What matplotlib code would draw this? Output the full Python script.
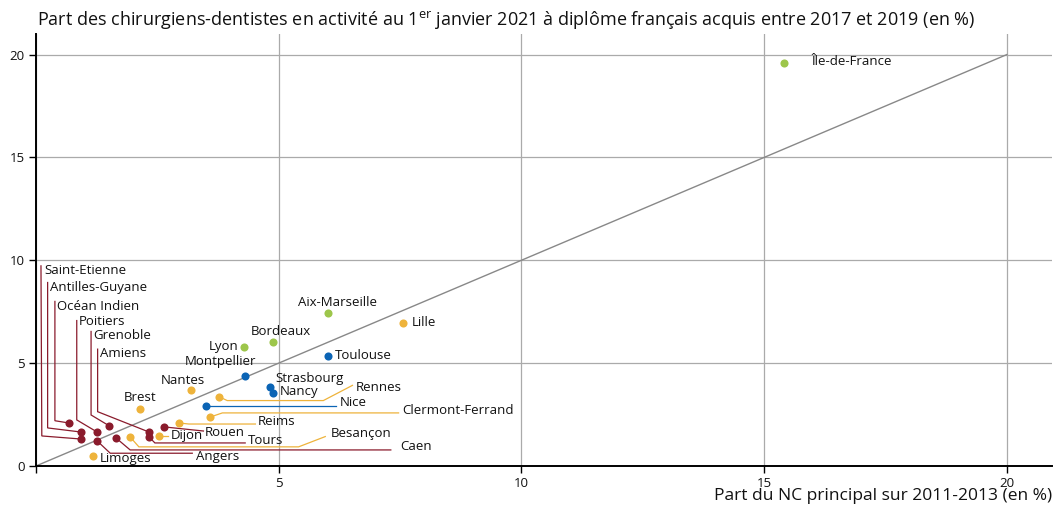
import matplotlib.pyplot as plt

plt.rcParams["font.family"] = ["Open Sans", "DejaVu Sans"]
plt.rcParams["mathtext.fontset"] = "custom"
plt.rcParams["mathtext.rm"] = "Open Sans"

# Data: share of principal NC 2011-2013 (x) vs share of dentists 2021 (y), in %
names = ["Île-de-France", "Aix-Marseille", "Bordeaux", "Lyon",
         "Lille", "Nantes", "Brest", "Rennes", "Reims", "Clermont-Ferrand",
         "Dijon", "Besançon", "Limoges",
         "Toulouse", "Montpellier", "Strasbourg", "Nancy", "Nice",
         "Saint-Etienne", "Antilles-Guyane", "Océan Indien", "Poitiers",
         "Grenoble", "Amiens", "Rouen", "Tours", "Caen", "Angers"]
x_nc = [15.42, 6.01, 4.89, 4.29,
        7.57, 3.20, 2.15, 3.78, 2.95, 3.59,
        2.54, 1.94, 1.18,
        6.01, 4.31, 4.83, 4.89, 3.51,
        0.93, 0.93, 0.68, 1.26,
        1.51, 2.33, 2.64, 2.33, 1.65, 1.26]
y_dent = [19.61, 7.45, 6.03, 5.79,
          6.96, 3.70, 2.77, 3.36, 2.09, 2.38,
          1.46, 1.41, 0.49,
          5.35, 4.38, 3.84, 3.55, 2.92,
          1.31, 1.65, 2.09, 1.65,
          1.95, 1.65, 1.90, 1.41, 1.36, 1.22]
groups = ["g"] * 4 + ["o"] * 9 + ["b"] * 5 + ["r"] * 10

colors = {"g": "#9DC64B", "o": "#EEB33B", "b": "#0B64B5", "r": "#8A1B2C"}

# label layout: (x, y, ha) in data units, plus optional leader waypoints
labels = {
    "Île-de-France": (15.98, 19.66, "left"),
    "Aix-Marseille": (6.21, 7.93, "center"),
    "Lille": (7.74, 6.96, "left"),
    "Bordeaux": (5.04, 6.52, "center"),
    "Lyon": (4.17, 5.79, "right"),
    "Toulouse": (6.15, 5.35, "left"),
    "Montpellier": (3.80, 5.06, "center"),
    "Strasbourg": (4.93, 4.23, "left"),
    "Nancy": (5.02, 3.60, "left"),
    "Nantes": (3.03, 4.18, "center"),
    "Brest": (2.15, 3.31, "center"),
    "Limoges": (1.32, 0.34, "left"),
    "Nice": (6.25, 3.07, "left"),
    "Rennes": (6.58, 3.80, "left"),
    "Clermont-Ferrand": (7.55, 2.68, "left"),
    "Reims": (4.56, 2.14, "left"),
    "Rouen": (3.47, 1.62, "left"),
    "Dijon": (2.77, 1.46, "left"),
    "Tours": (4.36, 1.22, "left"),
    "Besançon": (6.07, 1.56, "left"),
    "Caen": (7.51, 0.97, "left"),
    "Angers": (3.30, 0.45, "left"),
    "Saint-Etienne": (0.165, 9.49, "left"),
    "Antilles-Guyane": (0.29, 8.66, "left"),
    "Océan Indien": (0.44, 7.75, "left"),
    "Poitiers": (0.89, 7.02, "left"),
    "Grenoble": (1.17, 6.34, "left"),
    "Amiens": (1.32, 5.48, "left"),
}
leaders = {
    "Nice": [(6.19, 2.92)],
    "Rennes": [(3.94, 3.18), (5.92, 3.18), (6.52, 3.92)],
    "Clermont-Ferrand": [(3.84, 2.58), (7.47, 2.58)],
    "Reims": [(3.15, 2.04), (4.52, 2.04)],
    "Rouen": [(3.45, 1.70)],
    "Dijon": [(2.72, 1.46)],
    "Tours": [(2.45, 1.12), (4.31, 1.12)],
    "Besançon": [(2.12, 0.93), (5.41, 0.93), (5.96, 1.43)],
    "Caen": [(1.94, 0.78), (7.31, 0.78)],
    "Angers": [(1.53, 0.62), (3.22, 0.62)],
    "Saint-Etienne": [(0.12, 1.46), (0.103, 9.73)],
    "Antilles-Guyane": [(0.24, 1.85), (0.24, 8.92)],
    "Océan Indien": [(0.39, 2.20), (0.39, 8.00)],
    "Poitiers": [(0.84, 2.24), (0.84, 7.07)],
    "Grenoble": [(1.135, 2.48), (1.135, 6.54)],
    "Amiens": [(1.27, 2.64), (1.27, 5.68)],
}

fig = plt.figure(figsize=(10.55, 5.07), dpi=100)
ax = fig.add_axes([0.0341, 0.0809, 0.963, 0.852])

ax.set_xlim(0, 20.93)
ax.set_ylim(0, 21.0)
ax.set_xticks([0, 5, 10, 15, 20])
ax.set_xticklabels(["", "5", "10", "15", "20"])
ax.set_yticks([0, 5, 10, 15, 20])
ax.grid(True, color="#AAAAAA", linewidth=0.9)
ax.set_axisbelow(True)
for s in ["top", "right"]:
    ax.spines[s].set_visible(False)
for s in ["left", "bottom"]:
    ax.spines[s].set_linewidth(1.4)
    ax.spines[s].set_zorder(5)
ax.tick_params(direction="out", length=5, width=1, labelsize=9.5, pad=3,
               labelcolor="#111111")

ax.plot([0, 20], [0, 20], color="#888888", linewidth=1, zorder=1)

for n, x, y, g in zip(names, x_nc, y_dent, groups):
    c = colors[g]
    if n in leaders:
        pts = [(x, y)] + leaders[n]
        ax.plot([p[0] for p in pts], [p[1] for p in pts], color=c,
                linewidth=0.9, zorder=2, solid_joinstyle="miter")
    ax.scatter(x, y, s=34, color=c, zorder=4, linewidths=0)
    lx, ly, ha = labels[n]
    ax.text(lx, ly, n, ha=ha, va="center", fontsize=9.5, color="#111111",
            zorder=6)

fig.text(0.035, 0.9606,
         r"Part des chirurgiens-dentistes en activité au 1$^{\mathrm{er}}$ janvier 2021 à diplôme français acquis entre 2017 et 2019 (en %)",
         ha="left", va="center", fontsize=13, color="#111111")
fig.text(0.997, 0.0217, "Part du NC principal sur 2011-2013 (en %)",
         ha="right", va="center", fontsize=12.5, color="#111111")

fig.savefig("out.png", dpi=100)
